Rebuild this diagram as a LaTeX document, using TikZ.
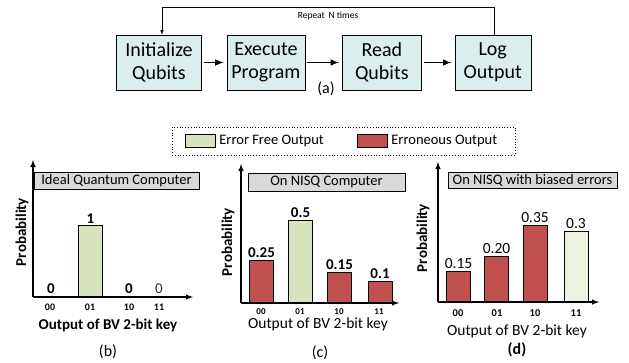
\documentclass[tikz,border=0pt]{standalone}
\usepackage{fontspec}
\setmainfont{Carlito}
\usetikzlibrary{arrows,positioning}

\definecolor{stagefill}{RGB}{219,238,237}
\definecolor{okgreen}{RGB}{215,228,189}
\definecolor{palegreen}{RGB}{236,242,224}
\definecolor{errred}{RGB}{192,80,77}
\definecolor{titlegray}{RGB}{217,217,217}

\begin{document}
\begin{tikzpicture}[
    x=1pt, y=-1pt,
    stage/.style={rectangle, draw, fill=stagefill, align=center, minimum height=55pt, inner xsep=2pt, inner ysep=1pt, font=\fontsize{20}{23}\selectfont},
    flow/.style={draw, line width=1.9pt, ->, >=latex, shorten >=3pt, shorten <=2pt},
    loopback/.style={draw, line width=0.6pt, ->, >=latex},
    swatch/.style={rectangle, draw, minimum width=30pt, minimum height=13pt, inner sep=0pt},
    legendtext/.style={font=\fontsize{14.5}{16}\selectfont, inner sep=1pt},
    title/.style={rectangle, draw, fill=titlegray, inner sep=0pt, font=\fontsize{14.5}{16}\selectfont},
    axis/.style={draw, line width=1.4pt, ->, >=latex},
    probbar/.style={rectangle, draw, line width=0.8pt, anchor=south, minimum width=24pt, inner sep=0pt},
    value/.style={inner sep=1pt, font=\bfseries\fontsize{15}{16}\selectfont},
    tick/.style={inner sep=0pt, font=\bfseries\fontsize{10}{11}\selectfont},
    ylab/.style={rotate=90, inner sep=0pt, font=\bfseries\fontsize{15}{16}\selectfont},
    xlab/.style={inner sep=0pt, font=\fontsize{15.5}{17}\selectfont},
    sub/.style={inner sep=0pt, font=\fontsize{16}{18}\selectfont}
]
\useasboundingbox (0,0) rectangle (629,362);

% Stages of one run
\node [stage, minimum width=85pt] (init) at (159,62.5) {Initialize\\Qubits};
\node [stage, minimum width=78pt, right=25pt of init] (exec) {Execute\\Program};
\node [stage, minimum width=79pt, right=37pt of exec] (read) {Read\\Qubits};
\node [stage, minimum width=76pt, right=33pt of read] (log) {Log\\Output};

\draw [flow] (init) -- (exec);
\draw [flow] (exec) -- (read);
\draw [flow] (read) -- (log);

% Repeat loop
\draw [loopback] ([xshift=2pt]log.north) -- ++(0,-28) -| ([xshift=3pt]init.north);
\node [font=\fontsize{9.5}{10}\selectfont] (repeat) at (328,16) {Repeat\, N times};
\node [sub] (cap-a) at (326,89) {(a)};

% Legend
\draw [dotted, line width=0.8pt] (172,127) rectangle (515,155);
\node [swatch, fill=okgreen] (key-free) at (200,140.5) {};
\node [legendtext, right=3pt of key-free] (txt-free) {Error Free Output};
\node [swatch, fill=errred] (key-err) at (372,140.5) {};
\node [legendtext, right=3pt of key-err] (txt-err) {Erroneous Output};

% (b) ideal machine
\coordinate (b-o) at (33,297);
\draw [axis] (b-o) -- (33,160);
\draw [axis] (b-o) -- (193,297);
\node [title, minimum width=165pt, minimum height=17pt] (b-title) at (116.5,180.5) {Ideal Quantum Computer};
\node [ylab] (b-ylab) at (22,232) {Probability};
\node [probbar, fill=okgreen, minimum height=71pt] (b01) at (90.5,297) {};
\node [value, above=1pt of b01] {1};
\node [value, anchor=south] at (51,295) {0};
\node [value, anchor=south] at (129,295) {0};
\node [value, anchor=south, font=\fontsize{15}{16}\selectfont, text=black!80] at (159,295) {0};
\foreach \x/\k in {50/00, 90/01, 129/10, 159/11}
  \node [tick] at (\x,307) {\k};
\node [xlab, font=\bfseries\fontsize{15}{17}\selectfont] (b-xlab) at (108,325) {Output of BV 2-bit key};
\node [sub] (cap-b) at (108,352) {(b)};

% (c) noisy machine
\coordinate (c-o) at (241,303);
\draw [axis] (c-o) -- (241,164);
\draw [axis] (c-o) -- (399,303);
\node [title, minimum width=157pt, minimum height=18pt] (c-title) at (326.5,182) {On NISQ Computer};
\node [ylab] (c-ylab) at (228,242) {Probability};
\foreach \x/\h/\c/\v [count=\i] in {261.5/42/errred/0.25, 300.5/82/okgreen/0.5, 339.5/30/errred/0.15, 380/21/errred/0.1} {
  \node [probbar, fill=\c, minimum height=\h pt] (c\i) at (\x,303) {};
  \node [value, above=1pt of c\i] {\v};
}
\foreach \x/\k in {261/00, 300/01, 339/10, 379/11}
  \node [tick, font=\bfseries\fontsize{9}{10}\selectfont] at (\x,311.5) {\k};
\node [xlab] (c-xlab) at (318,324.5) {Output of BV 2-bit key};
\node [sub] (cap-c) at (320,353) {(c)};

% (d) noisy machine, biased errors
\coordinate (d-o) at (438,302);
\draw [axis] (d-o) -- (438,162);
\draw [axis] (d-o) -- (599,302);
\node [title, minimum width=169pt, minimum height=16pt] (d-title) at (532.5,180) {On NISQ with biased errors};
\node [ylab] (d-ylab) at (423,238) {Probability};
\foreach \x/\h/\c/\v [count=\i] in {458.5/30/errred/0.15, 496.5/45/errred/0.20, 535/76/errred/0.35, 576/70/palegreen/0.3} {
  \node [probbar, fill=\c, minimum height=\h pt] (d\i) at (\x,302) {};
  \node [value, font=\fontsize{15.5}{16}\selectfont, above=1pt of d\i] {\v};
}
\foreach \x/\k in {458/00, 497/01, 535/10, 576/11}
  \node [tick, font=\bfseries\fontsize{10.5}{11}\selectfont] at (\x,313) {\k};
\node [xlab] (d-xlab) at (517,331) {Output of BV 2-bit key};
\node [sub, font=\bfseries\fontsize{16}{18}\selectfont] (cap-d) at (517,350) {(d)};

\end{tikzpicture}
\end{document}
